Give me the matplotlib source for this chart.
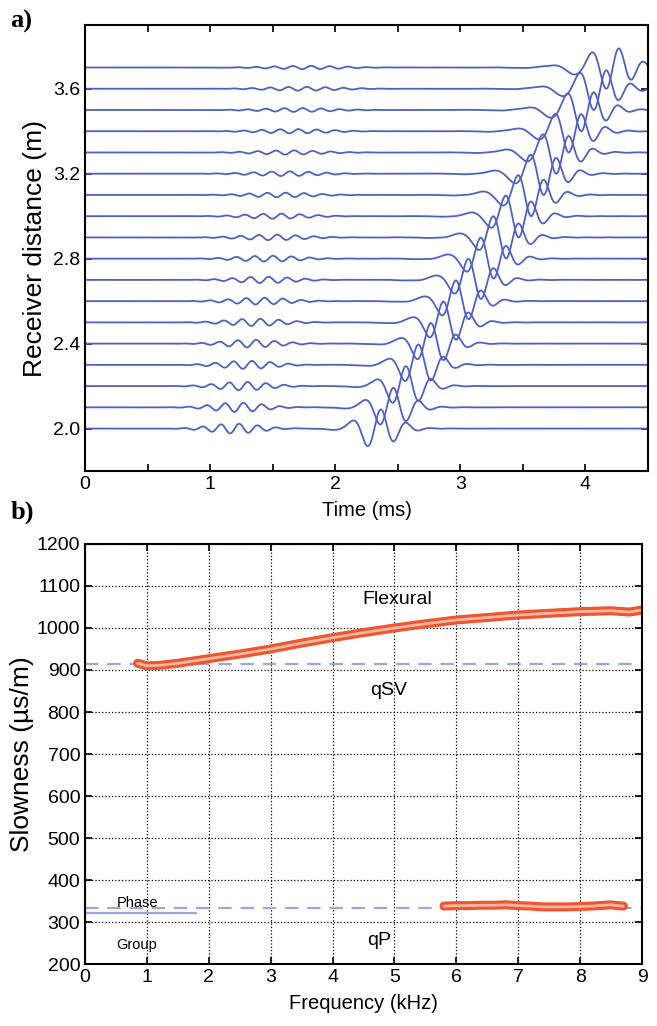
import numpy as np
import matplotlib
matplotlib.use('Agg')
import matplotlib.pyplot as plt

plt.rcParams['font.family'] = ['Liberation Sans', 'DejaVu Sans']

# ---- panel a: receiver offsets and per-trace amplitudes
offsets = [2.0, 2.1, 2.2, 2.3, 2.4, 2.5, 2.6, 2.7, 2.8,
           2.9, 3.0, 3.1, 3.2, 3.3, 3.4, 3.5, 3.6, 3.7]
flex_amp = [0.090, 0.092, 0.094, 0.096, 0.097, 0.098, 0.098, 0.099, 0.099,
            0.100, 0.100, 0.100, 0.100, 0.100, 0.100, 0.100, 0.100, 0.100]
qp_amp = [0.023, 0.022, 0.020, 0.019, 0.018, 0.017, 0.016, 0.015, 0.014,
          0.013, 0.012, 0.011, 0.011, 0.010, 0.010, 0.009, 0.009, 0.008]
flex_t0 = 0.16      # ms, source delay of flexural packet
qp_t0 = 0.52        # ms
qp_freq = 6.8       # kHz

# ---- panel b: dispersion curves
flex_freq = [0.85, 1.0, 1.2, 1.5, 2.0, 2.5, 3.0, 3.5, 4.0, 4.5, 5.0,
             5.5, 6.0, 6.5, 7.0, 7.5, 8.0, 8.5, 8.8, 9.0]
flex_slow = [916, 910, 911, 916, 927, 938, 950, 964, 977, 989, 1000,
             1010, 1019, 1025, 1031, 1035, 1039, 1041, 1038, 1043]
qp_freq_b = [5.8, 6.0, 6.2, 6.4, 6.6, 6.8, 7.0, 7.2, 7.4, 7.6, 7.8,
             8.0, 8.2, 8.4, 8.5, 8.6, 8.7]
qp_slow_b = [338, 339, 339, 340, 340, 341, 339, 338, 336, 336, 336,
             337, 338, 340, 341, 339, 338]
qsv_phase = 915
qp_phase = 333
qp_group = 321

trace_col = '#4f60c4'
ref_col = '#9aa6e0'
red = '#ee5530'

fig = plt.figure(figsize=(6.57, 10.26), dpi=100)
ax1 = fig.add_axes([0.1294, 0.5409, 0.8569, 0.4347])
ax2 = fig.add_axes([0.1294, 0.0604, 0.8478, 0.4094])

# synthetic traces, flexural part dispersed with the slowness curve of panel b
t = np.linspace(0, 4.5, 1800)
fgrid = np.linspace(0.3, 9.0, 500)
sgrid = np.interp(fgrid, flex_freq, flex_slow) / 1000.0
spec = np.exp(-((fgrid - 4.5) / 1.7) ** 2)
for i, x in enumerate(offsets):
    ph = 2 * np.pi * fgrid[:, None] * (t[None, :] - flex_t0 - sgrid[:, None] * x)
    u = (spec[:, None] * np.cos(ph)).sum(axis=0)
    u = u / np.abs(u).max() * flex_amp[i]
    tc = qp_t0 + 0.338 * x
    w = 0.28 + 0.08 * (x - 2.0)
    q = qp_amp[i] * np.exp(-((t - tc) / w) ** 2) * np.sin(2 * np.pi * qp_freq * (t - tc))
    ax1.plot(t, x + u + q, color=trace_col, lw=1.3)

ax1.set_xlim(0, 4.5)
ax1.set_ylim(1.8, 3.9)
ax1.set_xticks([0, 1, 2, 3, 4])
ax1.set_xticks([0.5, 1.5, 2.5, 3.5, 4.5], minor=True)
ax1.set_yticks([2.0, 2.4, 2.8, 3.2, 3.6])
ax1.set_yticklabels(['2.0', '2.4', '2.8', '3.2', '3.6'])
ax1.set_xlabel('Time (ms)', fontsize=14.5, labelpad=6)
ax1.set_ylabel('Receiver distance (m)', fontsize=19, labelpad=4)

# panel b
ax2.grid(True, color='k', ls=':', lw=0.9)
ax2.axhline(qsv_phase, color=ref_col, ls='--', lw=1.6, dashes=(6, 4))
ax2.axhline(qp_phase, color=ref_col, ls='--', lw=1.6, dashes=(6, 4))
ax2.plot([0, 1.8], [qp_group, qp_group], color=ref_col, lw=1.6)
for fr, sl in [(flex_freq, flex_slow), (qp_freq_b, qp_slow_b)]:
    ax2.plot(fr, sl, color=red, lw=6.5, solid_capstyle='round')
    ax2.plot(fr, sl, color='#f7b8a2', lw=2.0, solid_capstyle='round')

ax2.text(5.05, 1068, 'Flexural', fontsize=14, ha='center', va='center')
ax2.text(4.9, 852, 'qSV', fontsize=14, ha='center', va='center')
ax2.text(4.75, 255, 'qP', fontsize=14, ha='center', va='center')
ax2.text(0.84, 345, 'Phase', fontsize=10.5, ha='center', va='center')
ax2.text(0.84, 245, 'Group', fontsize=10.5, ha='center', va='center')

ax2.set_xlim(0, 9)
ax2.set_ylim(200, 1200)
ax2.set_xticks(range(0, 10))
ax2.set_yticks(range(200, 1201, 100))
ax2.set_xlabel('Frequency (kHz)', fontsize=14.5, labelpad=6)
ax2.set_ylabel('Slowness (\u00b5s/m)', fontsize=19, labelpad=2)

for ax in (ax1, ax2):
    ax.tick_params(which='both', direction='in', top=True, right=True,
                   labelsize=14, length=5, width=1.2)
    for sp in ax.spines.values():
        sp.set_linewidth(1.5)

fig.text(0.016, 0.990, 'a)', fontsize=19, fontweight='bold',
         family='Liberation Serif', va='top')
fig.text(0.016, 0.512, 'b)', fontsize=19, fontweight='bold',
         family='Liberation Serif', va='top')

fig.savefig('out.png', dpi=100, facecolor='white')
